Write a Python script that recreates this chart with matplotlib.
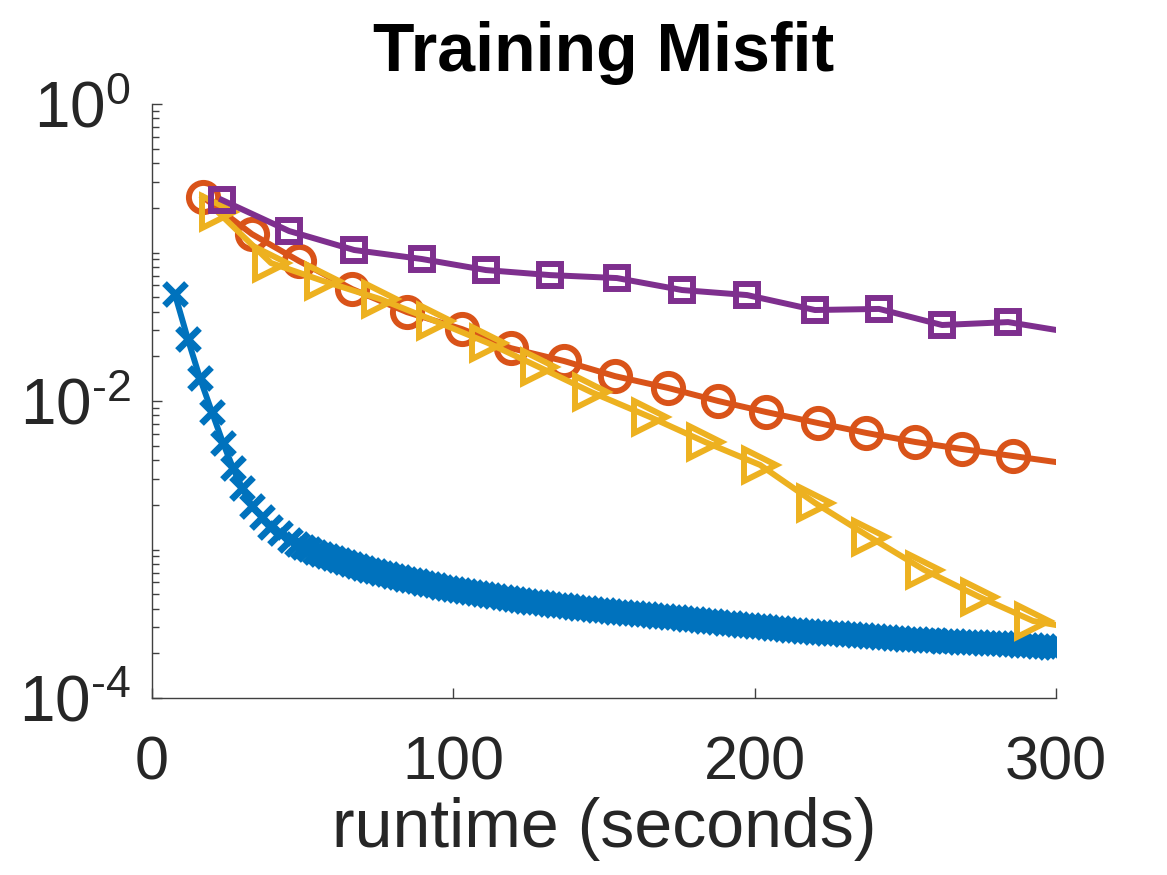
import matplotlib
matplotlib.use("Agg")
import matplotlib.pyplot as plt
from matplotlib.ticker import FixedLocator, LogLocator, NullFormatter, FuncFormatter

plt.rcParams['font.family'] = ['Liberation Sans', 'DejaVu Sans']
plt.rcParams['mathtext.fontset'] = 'custom'
plt.rcParams['mathtext.rm'] = 'Liberation Sans'
plt.rcParams['mathtext.it'] = 'Liberation Sans:italic'
plt.rcParams['mathtext.bf'] = 'Liberation Sans:bold'

# ---- data ----
blue_t = [7.6, 11.9, 15.9, 19.9, 23.6, 26.9, 29.9, 33.2, 36.5, 39.2, 42.5, 45.8,
          48, 50, 52, 54, 56, 58, 60, 62, 64, 66,
          68, 70, 72, 74, 76, 78, 80, 82, 84, 86,
          88, 90, 92, 94, 96, 98, 100, 102, 104, 106,
          108, 110, 112, 114, 116, 118, 120, 122, 124, 126,
          128, 130, 132, 134, 136, 138, 140, 142, 144, 146,
          148, 150, 152, 154, 156, 158, 160, 162, 164, 166,
          168, 170, 172, 174, 176, 178, 180, 182, 184, 186,
          188, 190, 192, 194, 196, 198, 200, 202, 204, 206,
          208, 210, 212, 214, 216, 218, 220, 222, 224, 226,
          228, 230, 232, 234, 236, 238, 240, 242, 244, 246,
          248, 250, 252, 254, 256, 258, 260, 262, 264, 266,
          268, 270, 272, 274, 276, 278, 280, 282, 284, 286,
          288, 290, 292, 294, 296, 298, 300]
# early points (absolute) and the dense tail (in units of 1e-4)
blue_y_head = [0.0526, 0.0262, 0.0143, 0.00843, 0.00521, 0.00354, 0.00260,
               0.00196, 0.00166, 0.00142, 0.00129, 0.00116]
blue_y_tail_e4 = [10.9, 10.45, 10.05, 9.65, 9.3, 9.02, 8.75, 8.48, 8.22, 7.98,
                  7.75, 7.53, 7.33, 7.14, 6.96, 6.80, 6.64, 6.49, 6.35, 6.22,
                  6.09, 5.97, 5.85, 5.74, 5.63, 5.53, 5.43, 5.34, 5.25, 5.16,
                  5.08, 5.00, 4.92, 4.85, 4.78, 4.71, 4.64, 4.58, 4.52, 4.46,
                  4.40, 4.35, 4.30, 4.25, 4.20, 4.15, 4.10, 4.06, 4.02, 3.98,
                  3.94, 3.90, 3.86, 3.82, 3.78, 3.75, 3.72, 3.68, 3.65, 3.62,
                  3.58, 3.55, 3.52, 3.49, 3.45, 3.42, 3.38, 3.35, 3.31, 3.28,
                  3.24, 3.21, 3.18, 3.15, 3.12, 3.09, 3.06, 3.03, 3.00, 2.97,
                  2.94, 2.91, 2.88, 2.86, 2.84, 2.82, 2.80, 2.78, 2.76, 2.74,
                  2.72, 2.70, 2.68, 2.66, 2.64, 2.62, 2.60, 2.58, 2.56, 2.54,
                  2.52, 2.50, 2.49, 2.48, 2.46, 2.45, 2.44, 2.43, 2.42, 2.41,
                  2.40, 2.39, 2.38, 2.37, 2.36, 2.35, 2.34, 2.33, 2.32, 2.31,
                  2.29, 2.28, 2.27, 2.25, 2.24, 2.22, 2.20]
blue_y = blue_y_head + [v * 1e-4 for v in blue_y_tail_e4]

orange_t = [16.9, 33.2, 48.8, 66.4, 84.6, 102.9, 119.1, 136.7, 153.7, 171.3,
            187.9, 203.8, 221.0, 237.0, 253.2, 268.8, 285.8, 300]
orange_y = [0.2365, 0.133, 0.0877, 0.0568, 0.0397, 0.0305, 0.0227, 0.0186,
            0.0147, 0.01224, 0.0100, 0.00843, 0.00711, 0.0061, 0.0053, 0.00475,
            0.00426, 0.00388]

yellow_t = [21.9, 39.5, 56.8, 75.7, 93.9, 111.5, 128.4, 145.7, 165.3, 183.5,
            201.8, 220.0, 238.3, 256.2, 274.5, 292.4, 300]
yellow_y = [0.1874, 0.0850, 0.0643, 0.0486, 0.0346, 0.0246, 0.01694, 0.0115,
            0.0078, 0.0053, 0.00371, 0.00206, 0.00121, 0.00073, 0.00048,
            0.00033, 0.00031]

purple_t = [23.2, 45.5, 67.1, 89.6, 110.8, 132.0, 154.3, 175.9, 197.5, 220.0,
            241.3, 262.2, 284.1, 300]
purple_y = [0.226, 0.1396, 0.104, 0.0904, 0.0762, 0.0705, 0.0673, 0.0559,
            0.0517, 0.041, 0.0417, 0.0325, 0.034, 0.0301]

x_ticks = [0, 100, 200, 300]
y_ticks = [1e-4, 1e-2, 1e0]
y_tick_labels = [r'$10^{\text{-}4}$', r'$10^{\text{-}2}$', r'$10^{0}$']

title_text = 'Training Misfit'
xlabel_text = 'runtime (seconds)'

# ---- figure ----
fig = plt.figure(figsize=(11.67, 8.75), dpi=100)
ax = fig.add_axes([0.1302, 0.2023, 0.9049 - 0.1302, 0.8811 - 0.2023])

c_blue, c_orange, c_yellow, c_purple = '#0072BD', '#D95319', '#EDB120', '#7E2F8E'

ax.plot(blue_t, blue_y, color=c_blue, lw=4.3, marker='x', ms=16.5, mew=4.8)
ax.plot(orange_t, orange_y, color=c_orange, lw=4.3, marker='o', ms=21,
        mew=4.3, mfc='none', markevery=slice(0, len(orange_t) - 1))
ax.plot(yellow_t, yellow_y, color=c_yellow, lw=4.3, marker='>', ms=23,
        mew=4.3, mfc='none', markevery=slice(0, len(yellow_t) - 1))
ax.plot(purple_t, purple_y, color=c_purple, lw=4.3, marker='s', ms=16,
        mew=4.3, mfc='none', markevery=slice(0, len(purple_t) - 1))

ax.set_yscale('log')
ax.set_xlim(0, 300)
ax.set_ylim(1e-4, 1e0)
ax.xaxis.set_major_locator(FixedLocator(x_ticks))
ax.yaxis.set_major_locator(FixedLocator(y_ticks))
ax.yaxis.set_major_formatter(FuncFormatter(
    lambda v, p: y_tick_labels[min(range(len(y_ticks)),
                                   key=lambda i: abs(y_ticks[i] - v))]))
ax.yaxis.set_minor_locator(LogLocator(base=10, subs=range(1, 10), numticks=50))
ax.yaxis.set_minor_formatter(NullFormatter())

for s in ['top', 'right']:
    ax.spines[s].set_visible(False)
for s in ['left', 'bottom']:
    ax.spines[s].set_color('#404040')
    ax.spines[s].set_linewidth(1.0)

ax.tick_params(axis='both', which='major', direction='in', length=7, width=1,
               color='#404040', labelsize=44, labelcolor='#262626')
ax.tick_params(axis='y', which='major', labelsize=46)
ax.tick_params(axis='y', which='minor', direction='in', length=5, width=1,
               color='#404040')
ax.tick_params(axis='x', which='major', pad=27)
ax.tick_params(axis='y', which='major', pad=15)

ax.set_title(title_text, fontsize=49, fontweight='bold', pad=24)
ax.set_xlabel(xlabel_text, fontsize=49, color='#262626', labelpad=3)

fig.savefig('out.png', dpi=100)
